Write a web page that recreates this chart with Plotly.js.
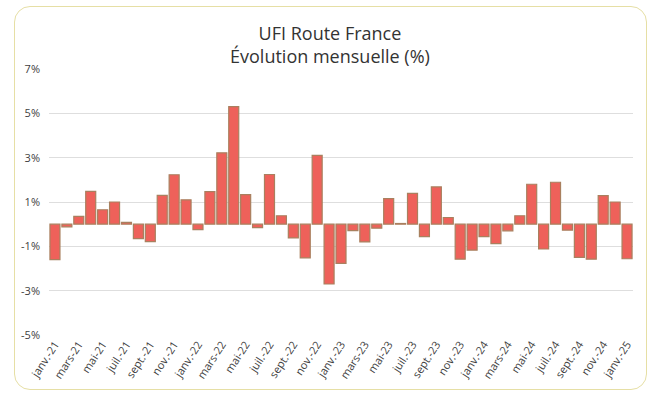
<!DOCTYPE html>
<html>
<head>
<meta charset="utf-8">
<script src="https://cdn.plot.ly/plotly-3.0.1.min.js"></script>
<style>
  html, body { margin: 0; padding: 0; background: #ffffff; }
  #wrap { position: relative; width: 656px; height: 399px; }
  #chart { width: 656px; height: 399px; }
  #frame { position: absolute; left: 14px; top: 6px; width: 631px; height: 382px;
           border: 1.5px solid #e6dfa5; border-radius: 16px; pointer-events: none; }
</style>
</head>
<body>
<div id="wrap">
  <div id="chart"></div>
  <div id="frame"></div>
</div>
<script>
const months = [
  'janv.-21','févr.-21','mars-21','avr.-21','mai-21','juin-21','juil.-21','août-21','sept.-21','oct.-21','nov.-21','déc.-21',
  'janv.-22','févr.-22','mars-22','avr.-22','mai-22','juin-22','juil.-22','août-22','sept.-22','oct.-22','nov.-22','déc.-22',
  'janv.-23','févr.-23','mars-23','avr.-23','mai-23','juin-23','juil.-23','août-23','sept.-23','oct.-23','nov.-23','déc.-23',
  'janv.-24','févr.-24','mars-24','avr.-24','mai-24','juin-24','juil.-24','août-24','sept.-24','oct.-24','nov.-24','déc.-24',
  'janv.-25'
];

const evolution = [
  -1.60, -0.12, 0.35, 1.48, 0.65, 1.00, 0.08, -0.65, -0.79, 1.30, 2.23, 1.10,
  -0.25, 1.47, 3.22, 5.30, 1.33, -0.16, 2.24, 0.38, -0.62, -1.52, 3.10, -2.70,
  -1.77, -0.29, -0.80, -0.18, 1.15, 0.03, 1.39, -0.56, 1.68, 0.30, -1.58, -1.17,
  -0.56, -0.88, -0.30, 0.38, 1.80, -1.12, 1.89, -0.27, -1.50, -1.58, 1.29, 1.00,
  -1.56
];

const xTickLabels = [
  'janv.-21','mars-21','mai-21','juil.-21','sept.-21','nov.-21',
  'janv.-22','mars-22','mai-22','juil.-22','sept.-22','nov.-22',
  'janv.-23','mars-23','mai-23','juil.-23','sept.-23','nov.-23',
  'janv.-24','mars-24','mai-24','juil.-24','sept.-24','nov.-24',
  'janv.-25'
];

const yTickVals = [-5, -3, -1, 1, 3, 5, 7];
const yTickText = ['-5%', '-3%', '-1%', '1%', '3%', '5%', '7%'];

const trace = {
  type: 'bar',
  x: months,
  y: evolution,
  marker: {
    color: '#ee615a',
    line: { color: '#a9805f', width: 1.2 }
  },
  hoverinfo: 'x+y'
};

const layout = {
  width: 656,
  height: 399,
  margin: { l: 49, r: 23, t: 69, b: 64 },
  paper_bgcolor: 'rgba(0,0,0,0)',
  plot_bgcolor: '#ffffff',
  font: { family: '"Open Sans", "Noto Sans", sans-serif', color: '#404040' },
  title: {
    text: 'UFI Route France<br>Évolution mensuelle (%)',
    font: { size: 18, color: '#333333', family: '"Open Sans", "Noto Sans", sans-serif' },
    x: 0.503, xref: 'container', xanchor: 'center',
    y: 0.9, yref: 'container', yanchor: 'middle'
  },
  bargap: 0.16,
  showlegend: false,
  xaxis: {
    type: 'category',
    tickmode: 'array',
    tickvals: xTickLabels,
    ticktext: xTickLabels,
    tickangle: -57,
    tickfont: { size: 11, color: '#404040' },
    showgrid: false,
    zeroline: false,
    showline: false,
    ticks: ''
  },
  yaxis: {
    range: [-5, 7],
    tickmode: 'array',
    tickvals: yTickVals,
    ticktext: yTickText,
    tickfont: { size: 11, color: '#404040' },
    showgrid: true,
    gridcolor: '#dedede',
    gridwidth: 1,
    zeroline: false,
    showline: false,
    ticks: '',
    ticklabelstandoff: 8
  }
};

Plotly.newPlot('chart', [trace], layout, { displayModeBar: false, staticPlot: true });
</script>
</body>
</html>
